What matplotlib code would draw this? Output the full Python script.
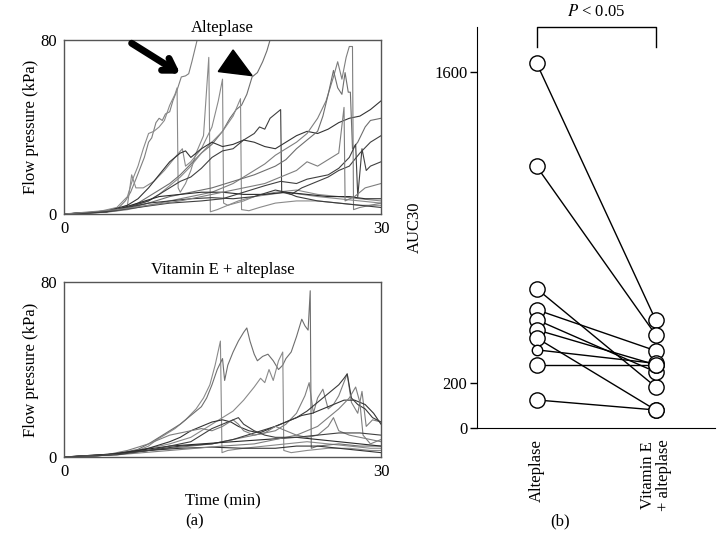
"""Flow pressure traces (a) and paired AUC30 values (b): alteplase vs vitamin E + alteplase."""

import matplotlib

matplotlib.use("Agg")
import matplotlib.pyplot as plt
from matplotlib.patches import Polygon

plt.rcParams["font.family"] = ["Liberation Serif", "DejaVu Serif"]
plt.rcParams["mathtext.fontset"] = "stix"

FS = 12

# --- panel (a), top: alteplase, (time min, pressure kPa) ---
alt_1 = [(0, 0), (2, 0.4), (4, 1.5), (5.2, 3), (5.8, 6), (6.3, 10), (6.8, 16), (7.2, 21),
         (7.6, 26), (8.0, 33), (8.3, 35), (8.7, 42), (9.0, 44), (9.3, 43), (9.6, 46),
         (10.0, 47), (10.3, 52), (10.7, 57), (11.1, 63), (11.5, 63.5), (11.8, 64.5),
         (12.1, 70), (12.4, 76), (12.6, 80), (13.0, 88)]
alt_2 = [(0, 0), (3, 0.8), (5, 3), (6, 8), (6.5, 16), (7, 22), (7.5, 30), (8, 37), (8.5, 38),
         (9, 40), (9.5, 43), (10, 50), (10.5, 55), (10.7, 58), (10.8, 12), (11, 10),
         (11.5, 14), (12, 20), (12.5, 28), (13.2, 36), (13.7, 72), (13.85, 1), (14.5, 2),
         (15.5, 4), (16.5, 6), (18, 8), (19.5, 9), (21, 10), (22.5, 9), (24, 8), (26, 7),
         (28, 6), (30, 5)]
alt_3 = [(0, 0), (3, 0.6), (5, 2), (6, 4), (6.4, 18), (6.8, 12), (7.5, 12), (8.5, 15),
         (9.5, 20), (10.5, 26), (11.2, 30), (11.5, 22), (12, 24), (13, 30), (14, 40),
         (14.6, 52), (15, 62), (15.1, 5), (15.5, 4), (17, 6), (18, 8), (20, 10), (22, 11),
         (24, 9), (26, 8), (28, 7), (30, 6)]
alt_4 = [(0, 0), (3, 0.5), (5, 1.5), (6, 3), (7, 5), (8, 8), (9, 11), (10, 14), (11, 18),
         (12, 23), (13, 28), (14, 32), (15, 38), (15.7, 44), (16.3, 48), (16.8, 50),
         (17.3, 55), (17.8, 63), (18.3, 65), (18.8, 70), (19.2, 75), (19.5, 80), (20, 88)]
alt_5 = [(0, 0), (4, 1), (6, 3), (8, 6), (9, 9), (10, 13), (11, 17), (12, 22), (13, 28),
         (14, 33), (15, 38), (16, 45), (16.7, 53), (16.8, 2), (17.5, 1.5), (18.5, 3),
         (20, 5), (22, 6), (24, 6), (26, 5), (28, 4), (30, 4)]
alt_6 = [(0, 0), (4, 1.2), (6, 4), (7, 7), (8, 12), (9, 18), (10, 24), (11, 28), (11.5, 29),
         (12, 26), (13, 30), (14, 33), (15, 31), (16, 32), (17, 34), (18, 33), (19, 31),
         (20, 30), (21, 33), (22, 36), (23, 38), (24, 37), (25, 39), (26, 42), (27, 44),
         (28, 45), (29, 48), (30, 52)]
alt_7 = [(0, 0), (4, 1), (6, 3), (8, 6), (9, 9), (10, 12), (11, 15), (12, 17), (13, 21),
         (14, 26), (15, 29), (16, 30), (17, 34), (18, 37), (18.5, 40), (19, 39),
         (19.5, 44), (20, 46), (20.5, 48), (20.6, 10), (21.5, 9), (22.5, 12), (24, 15),
         (25, 17), (26, 20), (27, 22), (28, 28), (29, 33), (30, 36)]
alt_8 = [(0, 0), (4, 0.8), (6, 2), (8, 4), (10, 6), (12, 8), (14, 10), (16, 14), (17, 17),
         (18, 20), (19, 23), (20, 27), (21, 30), (22, 33), (23, 37), (24, 44), (24.8, 52),
         (25.5, 63), (25.9, 70), (26.3, 62), (26.7, 72), (27, 77), (27.3, 77), (27.4, 2),
         (28, 3), (29, 4), (30, 5)]
alt_9 = [(0, 0), (4, 1), (6, 2.5), (8, 5), (10, 8), (12, 10), (14, 12), (16, 15), (18, 18),
         (20, 22), (21, 25), (22, 30), (23, 34), (24, 38), (24.5, 45), (25, 55), (25.5, 66),
         (25.9, 58), (26.3, 55), (26.6, 65), (26.9, 56), (27.1, 56), (27.3, 30),
         (27.8, 33), (28.5, 40), (29, 43), (30, 44)]
alt_10 = [(0, 0), (3, 0.7), (5, 2), (7, 5), (9, 8), (11, 9), (13, 10), (15, 10), (17, 9),
          (19, 9), (21, 10), (23, 9), (25, 8), (27, 8), (28.5, 7), (30, 7)]
alt_11 = [(0, 0), (4, 1), (6, 3), (8, 5), (10, 6), (12, 7), (14, 7.5), (16, 7), (18, 8),
          (20, 11), (21, 10), (22, 8), (24, 6), (26, 5), (28, 4), (30, 3)]
alt_12 = [(0, 0), (4, 1), (7, 3), (10, 5), (13, 6), (15, 7), (17, 10), (19, 13),
          (20.5, 15), (22, 14), (23, 16), (24, 17), (25, 18), (26, 21), (27, 26),
          (27.6, 32), (27.8, 8), (28.2, 30), (28.6, 20), (29, 22), (30, 24)]
alt_13 = [(0, 0), (5, 2), (8, 4), (11, 6), (14, 9), (17, 12), (19, 14), (21, 18), (22, 20),
          (23, 24), (24, 22), (25, 25), (26, 28), (26.5, 49), (26.6, 6), (27.5, 8),
          (28.5, 12), (30, 14)]

# --- panel (a), bottom: vitamin E + alteplase ---
vit_1 = [(0, 0), (3, 0.5), (5, 1.5), (7, 3), (8, 5), (8.8, 8), (9.5, 10), (10.5, 13),
         (11.5, 17), (12.5, 22), (13.2, 27), (13.8, 33), (14.3, 42), (14.8, 53),
         (14.95, 2), (15.5, 3), (17, 4), (19, 5), (21, 6), (23, 7), (25, 6), (27, 5),
         (29, 4), (30, 4)]
vit_2 = [(0, 0), (3, 0.5), (5, 1.5), (7, 3.5), (8, 6), (9, 9), (10, 12), (11, 15), (12, 19),
         (13, 23), (13.5, 27), (14, 33), (14.5, 40), (15, 45), (15.2, 35), (15.5, 42),
         (16, 48), (16.5, 53), (17, 57), (17.3, 59), (17.6, 53), (18, 47), (18.3, 44),
         (18.8, 46), (19.3, 47), (19.8, 44), (20.3, 40), (20.7, 42), (21, 45), (21.5, 48),
         (22, 55), (22.5, 63), (22.8, 60), (23.1, 58), (23.3, 76), (23.4, 4), (24, 5),
         (26, 6), (28, 5), (30, 5)]
vit_3 = [(0, 0), (4, 0.8), (6, 2), (8, 4), (10, 6), (12, 9), (13, 12), (14, 15), (15, 18),
         (16, 21), (17, 26), (18, 32), (18.6, 36), (19, 34), (19.4, 40), (19.8, 35),
         (20.3, 44), (20.7, 48), (20.8, 3), (21.5, 2), (23, 3), (25, 4), (27, 4), (29, 3),
         (30, 3)]
vit_4 = [(0, 0), (4, 0.8), (6, 2), (8, 3), (10, 4), (12, 5), (14, 6), (16, 8), (18, 10),
         (20, 12), (21, 15), (22, 20), (22.8, 28), (23.2, 34), (23.6, 20), (24, 27),
         (24.5, 31), (25, 22), (25.5, 24), (26, 28), (26.8, 38), (27.2, 25), (27.8, 20),
         (28.2, 30), (28.6, 14), (29.2, 17), (30, 16)]
vit_5 = [(0, 0), (4, 0.8), (6, 2), (8, 4), (10, 7), (11, 9), (12, 12), (13, 14), (14, 16),
         (15, 17), (15.8, 16), (16.5, 14), (17.5, 12), (18.5, 11), (19.5, 13), (20.5, 15),
         (21.5, 17), (22.5, 19), (23.5, 20), (24.5, 22), (25.5, 24), (26.5, 26),
         (27.5, 26), (28.5, 24), (29.3, 20), (30, 15)]
vit_6 = [(0, 0), (5, 1.5), (8, 3), (11, 5), (14, 6), (16, 8), (18, 11), (20, 14), (21, 16),
         (22, 18), (23, 21), (24, 25), (25, 29), (26, 33), (26.5, 36), (26.8, 38),
         (27.2, 27), (27.8, 24), (28.5, 22), (29.2, 18), (30, 16)]
vit_7 = [(0, 0), (4, 1), (6, 3), (8, 6), (9, 8), (10, 10), (11, 11), (12, 12), (13, 13),
         (14, 12), (15, 14), (16, 17), (16.5, 15), (17, 12), (18, 10), (19, 11), (20, 14),
         (21, 12), (22, 10), (23, 9), (24, 10), (25, 14), (25.5, 18), (26, 12), (27, 10),
         (28, 9), (29, 8), (30, 7)]
vit_8 = [(0, 0), (4, 1), (7, 3), (10, 5), (13, 6), (16, 7), (19, 8), (22, 9), (24, 8),
         (26, 7), (28, 6), (30, 5)]
vit_9 = [(0, 0), (5, 1.5), (8, 3), (11, 4), (14, 4.5), (17, 4), (20, 4), (22, 5), (24, 5),
         (26, 4), (28, 3), (30, 2)]
vit_10 = [(0, 0), (5, 1), (10, 3), (15, 5), (18, 6), (20, 8), (22, 10), (24, 14), (25, 18),
          (26, 22), (27, 27), (27.6, 32), (28, 25), (28.3, 10), (29, 6), (30, 8)]
vit_11 = [(0, 0), (5, 1), (8, 3), (10, 5), (12, 7), (13, 10), (14, 13), (15, 15), (16, 17),
          (16.5, 18), (17, 15), (18, 12), (19, 10), (20, 9), (22, 9), (24, 10), (26, 11),
          (28, 11), (30, 10)]

alt_traces = [alt_1, alt_2, alt_3, alt_4, alt_5, alt_6, alt_7, alt_8, alt_9, alt_10,
              alt_11, alt_12, alt_13]
alt_colors = ["#7e7e7e", "#8a8a8a", "#8a8a8a", "#6e6e6e", "#8a8a8a", "#333333", "#404040",
              "#7e7e7e", "#6e6e6e", "#2a2a2a", "#3a3a3a", "#404040", "#7e7e7e"]
vit_traces = [vit_1, vit_2, vit_3, vit_4, vit_5, vit_6, vit_7, vit_8, vit_9, vit_10, vit_11]
vit_colors = ["#8a8a8a", "#6e6e6e", "#8a8a8a", "#7e7e7e", "#333333", "#3a3a3a", "#7e7e7e",
              "#2a2a2a", "#333333", "#7e7e7e", "#404040"]

# --- panel (b): paired AUC30 ---
groups = ["Alteplase", "Vitamin E\n+ alteplase"]
auc_alteplase = [1639, 1175, 626, 531, 486, 441, 405, 351, 284, 126]
auc_vitamin_e = [486, 419, 185, 347, 252, 284, 81, 290, 284, 81]
small_marker = [False, False, False, False, False, False, False, True, False, False]

arrow_tail = (6.4, 78.5)
arrow_tip = (11.0, 64.5)
triangle = [(14.6, 65.5), (16.0, 75.4), (17.8, 63.6)]


def _trace_panel(ax, traces, colors, title):
    for trace, color in zip(traces, colors):
        t = [p[0] for p in trace]
        v = [p[1] for p in trace]
        ax.plot(t, v, color=color, lw=0.8, clip_on=True)
    ax.set_xlim(0, 30)
    ax.set_ylim(0, 80)
    ax.set_xticks([0, 30])
    ax.set_yticks([0, 80])
    ax.tick_params(length=0, pad=5, labelsize=FS)
    for s in ax.spines.values():
        s.set_color("#555555")
        s.set_linewidth(1.0)
    ax.set_ylabel("Flow pressure (kPa)", fontsize=FS, labelpad=1)
    ax.set_title(title, fontsize=FS, pad=6)


fig = plt.figure(figsize=(7.26, 5.6), dpi=100)

ax_top = fig.add_axes([0.0882, 0.6179, 0.4366, 0.3107])
_trace_panel(ax_top, alt_traces, alt_colors, "Alteplase")
ax_top.annotate("", xy=arrow_tip, xytext=arrow_tail,
                arrowprops=dict(arrowstyle="->,head_length=0.8,head_width=0.5",
                                lw=5, color="black", shrinkA=0, shrinkB=0))
ax_top.add_patch(Polygon(triangle, closed=True, color="black"))

ax_bot = fig.add_axes([0.0882, 0.1839, 0.4366, 0.3125])
_trace_panel(ax_bot, vit_traces, vit_colors, "Vitamin E + alteplase")
ax_bot.set_xlabel("Time (min)", fontsize=FS, labelpad=10)

ax_b = fig.add_axes([0.657, 0.2357, 0.328, 0.716])
for a, b, small in zip(auc_alteplase, auc_vitamin_e, small_marker):
    ax_b.plot([1, 2], [a, b], color="black", lw=1.0, zorder=1)
    ax_b.plot([1], [a], "o", ms=7.5 if small else 11, mfc="white", mec="black",
              mew=1.0, zorder=3)
    ax_b.plot([2], [b], "o", ms=11, mfc="white", mec="black", mew=1.0, zorder=3)
ax_b.set_xlim(0.5, 2.5)
ax_b.set_ylim(0, 1800)
ax_b.set_yticks([0, 200, 1600])
ax_b.set_xticks([1, 2])
ax_b.set_xticklabels(groups, rotation=90, fontsize=FS, linespacing=1.0)
ax_b.tick_params(axis="x", length=0, pad=8)
ax_b.tick_params(axis="y", length=5, width=1.0, pad=2, labelsize=FS)
ax_b.spines["top"].set_visible(False)
ax_b.spines["right"].set_visible(False)
ax_b.set_ylabel("AUC30", fontsize=FS, labelpad=8)

# significance bracket
ax_b.plot([1, 1, 2, 2], [1710, 1800, 1800, 1710], color="black", lw=1.0, clip_on=False)
ax_b.text(1.5, 1830, "$P$ < 0.05", ha="center", va="bottom", fontsize=FS)

fig.text(195 / 726, 1 - 521 / 560, "(a)", ha="center", va="center", fontsize=FS)
fig.text(560 / 726, 1 - 521 / 560, "(b)", ha="center", va="center", fontsize=FS)

fig.savefig("out.png", dpi=100)
